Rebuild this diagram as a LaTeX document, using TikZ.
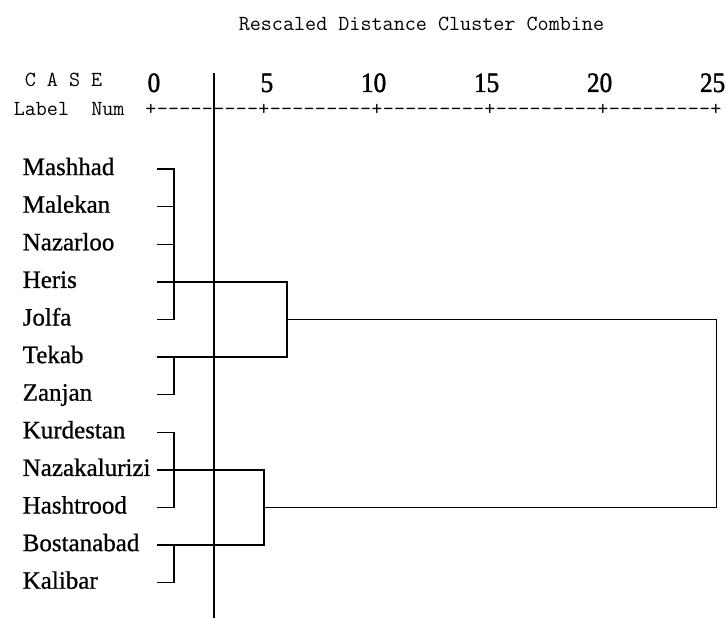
\documentclass[tikz,border=0pt]{standalone}
\usepackage{fontspec}
\setmainfont{Liberation Serif}
\setmonofont{Latin Modern Mono}[Ligatures=TeXOff]
\newfontfamily\leaffont{Liberation Serif}[FakeBold=0.8]
\newfontfamily\numfont{Liberation Serif}[FakeStretch=0.9,FakeBold=1.5]

\begin{document}
\begin{tikzpicture}[x=1pt,y=-1pt,line width=1.5pt,
    casetext/.style={inner sep=0pt,anchor=base west,font=\ttfamily\fontsize{21.5}{22}\selectfont},
    axischar/.style={inner sep=0pt,anchor=base,font=\ttfamily\fontsize{21.5}{22}\selectfont},
    leaf/.style={inner sep=0pt,anchor=base west,font=\leaffont\fontsize{25}{26}\selectfont},
    scalenum/.style={inner sep=0pt,anchor=base east,font=\numfont\fontsize{28}{28}\selectfont}]
          \useasboundingbox (0,0) rectangle (726,618);

          \node[casetext] (title) at (238,31) {Rescaled Distance Cluster Combine};
          \node[casetext] (casehead) at (24,87) {C A S E};
          \node[casetext] (labelhead) at (13,115) {Label\ \ Num};

          % axis: a plus every ten characters
          \foreach \c in {0,...,50}{
            \pgfmathtruncatemacro\r{mod(\c,10)}
            \node[axischar] (a\c) at ({151+11.3*\c},115) {\ifnum\r=0 +\else -\fi};
          }

          \foreach \v [count=\i] in {0,5,10,15,20,25}{
            \node[scalenum] (n\i) at ({161+22.6*\v},92) {\v};
          }

          \foreach \name [count=\i] in {Mashhad,Malekan,Nazarloo,Heris,Jolfa,Tekab,Zanjan,
            Kurdestan,Nazakalurizi,Hashtrood,Bostanabad,Kalibar}{
            \node[leaf] (t\i) at (22,{137.5+37.6*\i}) {\name};
            \coordinate (l\i) at (157,{131.5+37.6*\i});
          }

          \coordinate (k0) at (174,0);
          \coordinate (k1) at (264,0);
          \coordinate (k2) at (287,0);
          \coordinate (k3) at (716.5,0);

          % first cluster
          \draw (l1) -- (l1-|k0) -- (l5-|k0) -- (l5);
          \foreach \i in {2,3}{
            \draw (l\i) -- (l\i-|k0);
          }
          \draw (l4) -- (l4-|k2) -- (l6-|k2) -- (l6);
          \draw (l6-|k0) -- (l7-|k0) -- (l7);

          % second cluster
          \draw (l8) -- (l8-|k0) -- (l10-|k0) -- (l10);
          \draw (l9) -- (l9-|k1) -- (l11-|k1) -- (l11);
          \draw (l11-|k0) -- (l12-|k0) -- (l12);

          \draw (l5-|k2) -- (l5-|k3) -- (l10-|k3) -- (l10-|k1);

          \coordinate (cuttop) at (214,73);
          \coordinate (cutbot) at (214,618);
          \draw[line width=1.3pt] (cuttop) -- (cutbot);
        \end{tikzpicture}
\end{document}
